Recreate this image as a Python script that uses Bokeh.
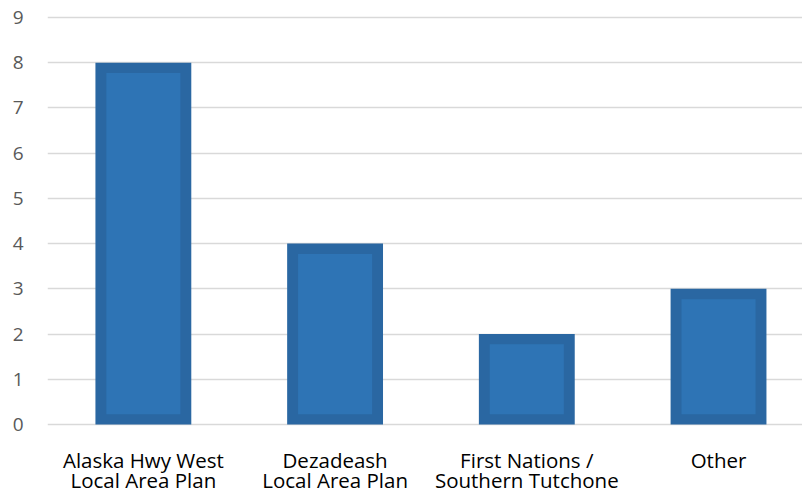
from bokeh.plotting import figure
from bokeh.models import Range1d, FixedTicker
from bokeh.core.properties import value
from bokeh.embed import file_html
from bokeh.resources import INLINE

categories = ["Alaska Hwy West\nLocal Area Plan", "Dezadeash\nLocal Area Plan",
              "First Nations /\nSouthern Tutchone", "Other"]
values = [8, 4, 2, 3]
y_ticks = [0, 1, 2, 3, 4, 5, 6, 7, 8, 9]

xs = list(range(len(categories)))
line1 = [c.split("\n")[0] for c in categories]
line2 = [(c.split("\n") + [""])[1] for c in categories]

p = figure(width=802, height=495, output_backend="svg", toolbar_location=None,
           x_range=Range1d(-0.5, 3.438), y_range=Range1d(-1.570, 9.066),
           min_border_left=47, min_border_right=0, min_border_top=14, min_border_bottom=0)
p.outline_line_color = None
p.background_fill_color = "white"
p.border_fill_color = "white"

p.xgrid.grid_line_color = None
p.ygrid.grid_line_color = "#d9d9d9"
p.ygrid.grid_line_width = 1.5
p.ygrid.ticker = FixedTicker(ticks=y_ticks)

bar_w = 0.5
inset_x = 11 / 193.5
inset_y = 10.5 / 46.1
p.vbar(x=xs, top=values, bottom=0, width=bar_w, fill_color="#2a67a2", line_color=None)
p.vbar(x=xs, top=[v - inset_y for v in values], bottom=inset_y,
       width=bar_w - 2 * inset_x, fill_color="#2e74b5", line_color=None)

# category labels (two lines), drawn below the zero line
p.text(x=xs, y=-0.785, text=line1, text_align="center", text_baseline="middle",
       text_font=value("Open Sans"), text_font_size="20.5px", text_color="#000000")
p.text(x=xs, y=-1.238, text=line2, text_align="center", text_baseline="middle",
       text_font=value("Open Sans"), text_font_size="20.5px", text_color="#000000")

p.xaxis.visible = False

p.yaxis.ticker = FixedTicker(ticks=y_ticks)
p.yaxis.axis_line_color = None
p.yaxis.major_tick_line_color = None
p.yaxis.minor_tick_line_color = None
p.yaxis.major_label_standoff = 18
p.yaxis.major_label_text_font = "Open Sans"
p.yaxis.major_label_text_font_size = "19px"
p.yaxis.major_label_text_color = "#595959"

open("out.html", "w").write(file_html(p, INLINE))
